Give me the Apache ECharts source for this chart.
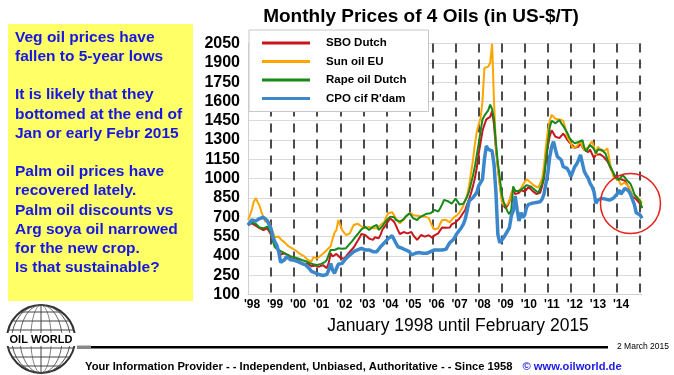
<!DOCTYPE html>
<html>
<head>
<meta charset="utf-8">
<script src="https://cdn.jsdelivr.net/npm/echarts@6/dist/echarts.min.js"></script>
<style>
  html, body { margin: 0; padding: 0; background: #fff; }
  #main { width: 674px; height: 375px; }
</style>
</head>
<body>
<div id="main"></div>
<script>
// monthly prices, Jan 1998 .. Feb 2015 (US-$/T)
const seriesNames = ['SBO Dutch', 'Sun oil EU', 'Rape oil Dutch', 'CPO cif R\'dam'];
const seriesColors = ['#c8161d', '#ffa500', '#16891a', '#3b87cc'];

const sboDutch = [
  640,648,653,645,635,627,615,605,601,608,614,600,
  565,520,495,470,440,410,415,420,412,405,390,372,
  368,372,365,355,340,330,335,342,338,320,318,325,
  322,316,320,328,315,305,345,420,395,385,415,400,
  385,370,378,395,415,432,446,465,490,515,540,570,
  580,562,548,535,528,524,545,548,537,565,605,625,
  648,670,690,688,666,635,600,570,565,585,580,575,
  585,585,560,545,525,540,562,555,550,558,560,545,
  540,560,568,575,600,620,612,619,610,620,645,655,
  660,668,690,712,735,755,800,840,885,940,1000,1080,
  1190,1280,1370,1420,1460,1455,1480,1525,1420,1230,1090,960,
  850,790,770,790,820,880,915,880,865,890,910,905,
  900,915,935,920,905,910,880,875,890,940,1000,1130,
  1250,1330,1375,1350,1326,1320,1315,1330,1350,1330,1305,1285,
  1275,1258,1240,1225,1250,1275,1245,1223,1212,1205,1225,1235,
  1160,1185,1200,1190,1180,1170,1160,1135,1105,1068,1040,1025,
  1005,1000,995,990,985,960,935,900,865,850,840,830,
  805,775
];

const sunOilEU = [
  680,715,760,820,847,820,790,740,700,666,679,665,
  620,580,545,537,550,530,520,505,490,475,465,458,
  448,440,430,415,407,400,390,370,360,355,390,385,
  380,394,405,420,430,446,460,475,530,580,600,680,
  670,600,580,562,565,575,610,640,653,650,640,630,
  627,615,610,625,640,615,601,615,625,640,655,666,
  705,731,743,740,730,690,670,653,660,680,700,718,
  725,731,715,705,712,715,708,705,705,700,695,660,
  627,605,601,615,650,679,684,680,670,660,680,697,
  705,720,736,760,790,830,870,943,1040,1140,1260,1360,
  1420,1470,1600,1860,1865,1870,1900,2050,1600,1250,1075,950,
  830,795,780,800,830,880,930,905,895,905,925,950,
  975,995,985,970,955,945,935,930,945,1000,1100,1250,
  1370,1450,1495,1480,1465,1456,1460,1470,1450,1400,1330,1300,
  1275,1240,1225,1250,1270,1287,1250,1223,1235,1245,1270,1290,
  1250,1184,1248,1235,1215,1200,1220,1236,1150,1080,1020,1003,
  995,985,951,960,970,955,938,910,870,860,866,873,
  834,809
];

const rapeOilDutch = [
  640,650,660,666,650,635,620,612,614,625,627,605,
  575,510,465,452,445,435,430,420,412,405,398,394,
  390,385,380,375,368,365,358,352,345,342,335,330,
  330,335,338,342,352,368,410,446,448,446,455,459,
  450,455,445,460,475,495,511,530,550,568,580,605,
  615,627,620,601,612,627,638,640,601,615,632,655,
  675,690,705,718,700,679,670,666,675,685,705,720,
  731,712,692,682,679,695,705,712,718,728,731,732,
  745,757,750,745,770,800,835,840,825,815,805,820,
  845,830,800,790,805,830,860,900,960,1020,1090,1180,
  1270,1370,1460,1490,1500,1530,1575,1540,1460,1280,1120,1010,
  880,820,780,745,725,760,940,905,890,905,915,925,
  920,950,955,940,925,915,900,890,905,960,1020,1150,
  1270,1400,1450,1440,1430,1445,1455,1430,1410,1400,1360,1326,
  1300,1287,1275,1270,1285,1295,1300,1240,1210,1240,1262,1255,
  1230,1197,1225,1240,1225,1210,1195,1150,1106,1080,1050,1010,
  1003,990,1005,1028,1010,990,1000,960,925,880,860,855,
  825,770
];

const cpoRdam = [
  640,655,680,695,670,665,690,705,700,690,675,660,
  610,545,510,480,430,350,340,370,395,385,370,365,
  365,370,355,355,342,335,330,320,300,280,275,268,
  262,255,250,248,250,255,290,340,290,265,300,335,
  345,342,362,380,394,407,400,433,420,446,455,459,
  471,446,455,446,433,433,420,433,446,471,485,503,
  518,536,550,556,545,498,471,459,460,452,446,433,
  433,407,400,420,433,426,415,420,433,420,420,433,
  439,446,452,446,446,446,451,451,477,502,516,529,
  555,580,593,619,645,684,749,826,840,852,865,891,
  943,969,995,1150,1254,1228,1215,1215,1112,891,568,502,
  516,541,555,593,619,710,749,865,762,671,736,697,
  720,780,800,805,810,815,815,825,820,840,880,960,
  1042,1171,1248,1287,1223,1171,1162,1145,1093,1093,1080,1054,
  1016,1054,1093,1114,1145,1184,1119,1054,1028,1003,964,938,
  899,809,834,847,847,847,841,834,834,841,847,860,
  880,912,880,900,925,930,905,880,840,800,735,740,
  718,692
];

const firstYear = 1998;
const yTicks = { min: 100, max: 2050, step: 150 };

const noteLines = [
  'Veg oil prices have',
  'fallen to 5-year lows',
  '',
  'It is likely that they',
  'bottomed at the end of',
  'Jan or early Febr 2015',
  '',
  'Palm oil prices have',
  'recovered lately.',
  'Palm oil discounts vs',
  'Arg soya oil narrowed',
  'for the new crop.',
  'Is that sustainable?'
];

const font = 'Liberation Sans, Arial, Helvetica, sans-serif';
const allValues = [sboDutch, sunOilEU, rapeOilDutch, cpoRdam];
const lastIdx = sboDutch.length - 1;

const chart = echarts.init(document.getElementById('main'));

// globe logo pieces
const gx = 41, gy = 339, gr = 34;
const globe = [
  { type: 'circle', shape: { cx: gx, cy: gy, r: gr }, style: { fill: '#fff', stroke: '#333', lineWidth: 2 } }
];
[-27, -18, -9, 9, 18, 27].forEach(dy => {
  const hw = Math.sqrt(gr * gr - dy * dy);
  globe.push({ type: 'line', shape: { x1: gx - hw, y1: gy + dy, x2: gx + hw, y2: gy + dy },
    style: { stroke: '#444', lineWidth: 1 } });
});
[0.3, 0.62, 0.86].forEach(s => {
  globe.push({ type: 'circle', x: gx, y: gy, scaleX: s, shape: { cx: 0, cy: 0, r: gr },
    style: { fill: null, stroke: '#444', lineWidth: 1, strokeNoScale: true } });
});
globe.push({ type: 'line', shape: { x1: gx, y1: gy - gr, x2: gx, y2: gy + gr }, style: { stroke: '#444', lineWidth: 1 } });
globe.push({ type: 'rect', shape: { x: 5, y: 333, width: 72, height: 13 }, style: { fill: '#fff' } });
globe.push({ type: 'text', x: gx, y: 340, style: { text: 'OIL WORLD', fill: '#000', font: 'bold 11px ' + font, textAlign: 'center', textVerticalAlign: 'middle' } });

chart.setOption({
  animation: false,
  backgroundColor: '#fff',
  color: seriesColors,
  grid: { left: 248, right: 32, top: 43.5, bottom: 80.5, outerBoundsMode: 'none' },
  legend: {
    orient: 'vertical',
    left: 249, top: 30,
    backgroundColor: '#fff',
    borderColor: '#c8c8c8', borderWidth: 1,
    padding: [6, 22, 6, 13],
    itemGap: 4.5,
    itemWidth: 48, itemHeight: 3,
    icon: 'rect',
    data: seriesNames,
    textStyle: { fontFamily: font, fontWeight: 'bold', fontSize: 11.5, color: '#000', lineHeight: 14, padding: [0, 0, 0, 11] }
  },
  xAxis: {
    type: 'value',
    min: 0, max: lastIdx, interval: 12,
    axisLine: { show: true, lineStyle: { color: '#cfcfcf' } },
    axisTick: { show: false },
    axisLabel: {
      margin: 4, color: '#000', fontFamily: font, fontWeight: 'bold', fontSize: 12,
      padding: [0, 0, 0, 8],
      formatter: v => (v % 12 === 0 && v < 204) ? "'" + String((firstYear + v / 12) % 100).padStart(2, '0') : ''
    },
    splitLine: { show: true, showMinLine: false, showMaxLine: false, lineStyle: { color: '#111', width: 1.5, type: [9, 7] } }
  },
  yAxis: {
    type: 'value',
    min: yTicks.min, max: yTicks.max, interval: yTicks.step,
    axisLine: { show: true, lineStyle: { color: '#cfcfcf' } },
    axisTick: { show: false },
    axisLabel: { margin: 8, color: '#000', fontFamily: font, fontWeight: 'bold', fontSize: 16, formatter: v => String(v) },
    splitLine: { lineStyle: { color: '#dadada', width: 1 } }
  },
  series: seriesNames.map((name, k) => ({
    name: name,
    type: 'line',
    symbol: 'none',
    z: 3 + k,
    lineStyle: { width: k === 3 ? 3.5 : 2, color: seriesColors[k] },
    data: allValues[k].map((v, i) => [i, v])
  })),
  graphic: [
    { type: 'rect', shape: { x: 8, y: 24, width: 185, height: 277 }, style: { fill: '#ffff66' } },
    { type: 'text', x: 15, y: 28, style: { text: noteLines.join('\n'), fill: '#1515e6', font: 'bold 15.5px ' + font, lineHeight: 19.2 } },
    { type: 'text', x: 421, y: 17, style: { text: 'Monthly Prices of 4 Oils (in US-$/T)', fill: '#000', font: 'bold 19px ' + font, textAlign: 'center', textVerticalAlign: 'middle' } },
    { type: 'text', x: 458, y: 326, style: { text: 'January 1998 until February 2015', fill: '#000', font: '17.5px ' + font, textAlign: 'center', textVerticalAlign: 'middle' } },
    { type: 'rect', shape: { x: 77, y: 346, width: 531, height: 2.5 }, style: { fill: '#000' } },
    { type: 'rect', shape: { x: 77, y: 345.5, width: 14, height: 3.5 }, style: { fill: '#888' } },
    { type: 'text', x: 617, y: 347, style: { text: '2 March 2015', fill: '#000', font: '8.5px ' + font, textVerticalAlign: 'middle' } },
    { type: 'text', x: 85, y: 367, style: {
        text: '{a|Your Information Provider - - Independent, Unbiased, Authoritative - - Since 1958}   {b|\u00a9 www.oilworld.de}',
        textVerticalAlign: 'middle',
        rich: {
          a: { fill: '#000', font: 'bold 11.2px ' + font },
          b: { fill: '#1a1ae6', font: 'bold 11.2px ' + font }
        }
      } },
    { type: 'group', children: globe }
  ]
});

// red circle around the latest months
const c = chart.convertToPixel({ gridIndex: 0 }, [199, 807]);
chart.setOption({
  graphic: [
    { type: 'circle', id: 'ring', z: 100, shape: { cx: c[0], cy: c[1], r: 30 }, style: { fill: null, stroke: '#e8201a', lineWidth: 1.5 } }
  ]
});
</script>
</body>
</html>
